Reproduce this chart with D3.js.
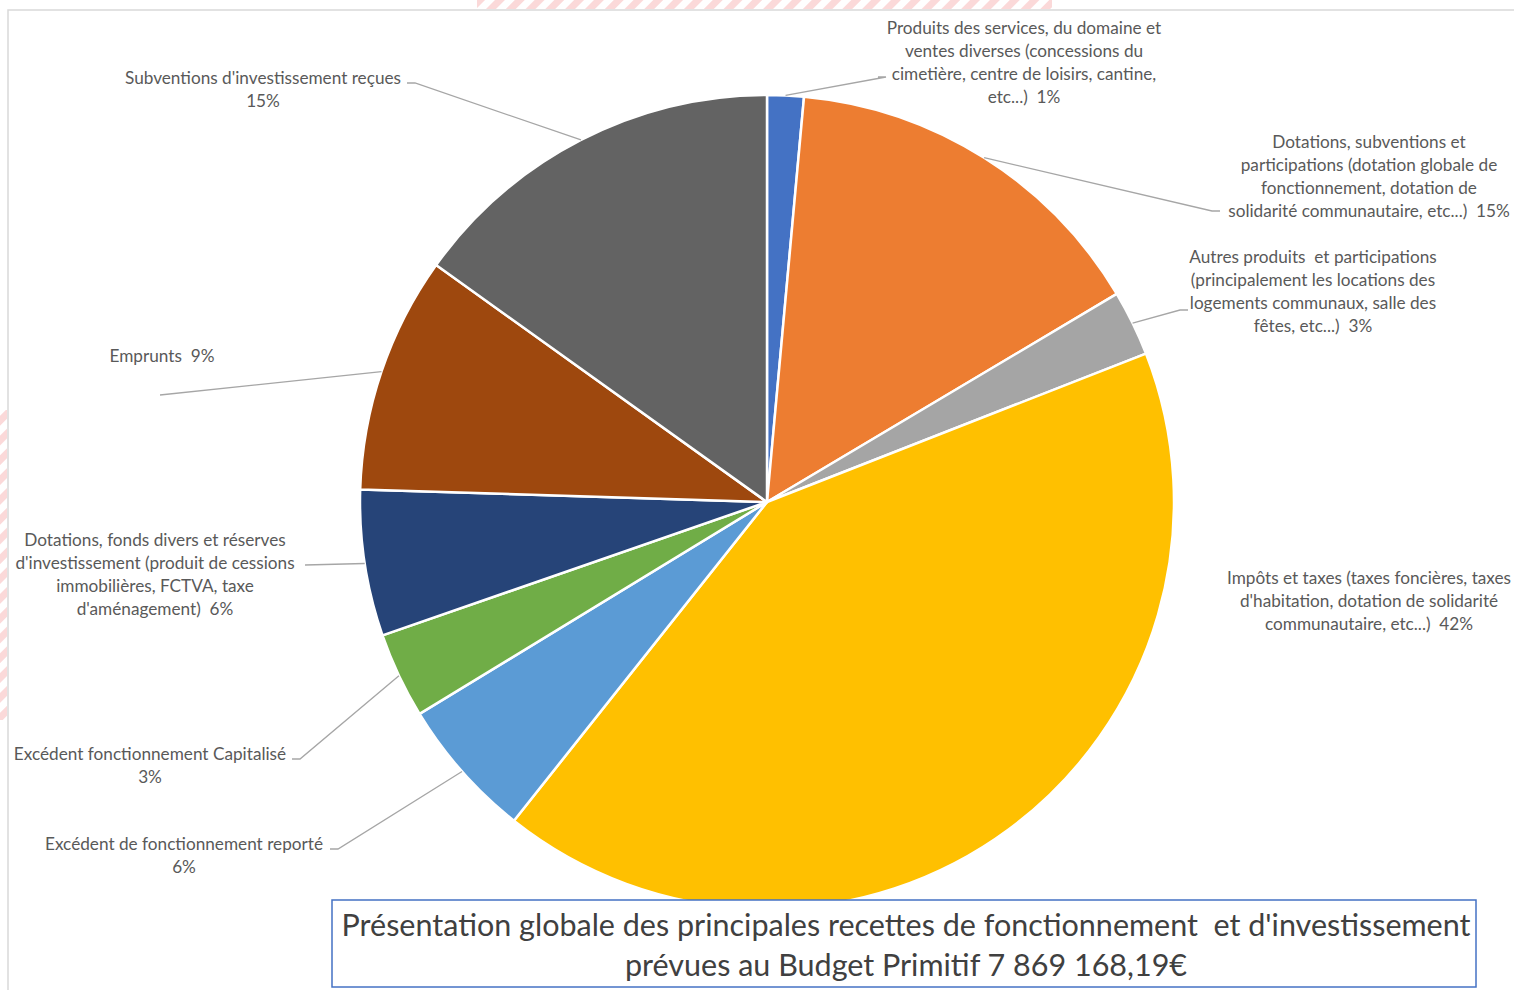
<!DOCTYPE html>
<html>
<head>
<meta charset="utf-8">
<script src="https://cdn.jsdelivr.net/npm/d3@7"></script>
<style>
  body { margin: 0; background: #fff; }
  svg { display: block; }
  .lbl { font-family: Lato, "Open Sans", sans-serif; font-size: 17.2px; fill: #595959; }
  .title { font-family: Lato, "Open Sans", sans-serif; font-size: 30.5px; fill: #404040; }
</style>
</head>
<body>
<svg id="chart" width="1514" height="990"></svg>
<script>
// donnees (recettes, en %)
const categories = [
  "Produits des services, du domaine et ventes diverses",
  "Dotations, subventions et participations",
  "Autres produits et participations",
  "Impôts et taxes",
  "Excédent de fonctionnement reporté",
  "Excédent fonctionnement Capitalisé",
  "Dotations, fonds divers et réserves d'investissement",
  "Emprunts",
  "Subventions d'investissement reçues"
];
const values = [1.45, 15.0, 2.6, 41.6, 5.6, 3.4, 5.8, 9.4, 15.1];
// texte des etiquettes, {p} = pourcentage
const labelLines = [
  ["Produits des services, du domaine et", "ventes diverses (concessions du", "cimetière, centre de loisirs, cantine,", "etc...)  {p}"],
  ["Dotations, subventions et", "participations (dotation globale de", "fonctionnement, dotation de", "solidarité communautaire, etc...)  {p}"],
  ["Autres produits  et participations", "(principalement les locations des", "logements communaux, salle des", "fêtes, etc...)  {p}"],
  ["Impôts et taxes (taxes foncières, taxes", "d'habitation, dotation de solidarité", "communautaire, etc...)  {p}"],
  ["Excédent de fonctionnement reporté", "{p}"],
  ["Excédent fonctionnement Capitalisé", "{p}"],
  ["Dotations, fonds divers et réserves", "d'investissement (produit de cessions", "immobilières, FCTVA, taxe", "d'aménagement)  {p}"],
  ["Emprunts  {p}"],
  ["Subventions d'investissement reçues", "{p}"]
];
const titleLines = [
  "Présentation globale des principales recettes de fonctionnement  et d'investissement",
  "prévues au Budget Primitif 7 869 168,19€"
];

const colors = ["#4472C4", "#ED7D31", "#A5A5A5", "#FFC000", "#5B9BD5", "#70AD47", "#264478", "#9E480E", "#636363"];

// placement des etiquettes (deplacees a la main dans l'original)
// x,y = centre de la 1re ligne ; lx,ly = bout de la ligne de rappel ; tick = petit trait horizontal
const labelPos = [
  {x: 1024, y: 28,  lx: 886,  ly: 77,  tick: -8},
  {x: 1369, y: 142, lx: 1212, ly: 211, tick: 8},
  {x: 1313, y: 257, lx: 1180, ly: 310, tick: 8},
  {x: 1369, y: 578, lx: null, ly: null, tick: 0},
  {x: 184,  y: 844, lx: 338,  ly: 849, tick: -8},
  {x: 150,  y: 754, lx: 300,  ly: 759, tick: -8},
  {x: 155,  y: 540, lx: 305,  ly: 565, tick: 0},
  {x: 162,  y: 356, lx: 160,  ly: 395, tick: 0},
  {x: 263,  y: 78,  lx: 415,  ly: 83,  tick: -8}
];

const cx = 767, cy = 502, R = 407;
const lineH = 23;

const svg = d3.select('#chart');

// hachures roses (bords de la capture)
const defs = svg.append('defs');
const pat = defs.append('pattern')
  .attr('id', 'hatch')
  .attr('patternUnits', 'userSpaceOnUse')
  .attr('width', 14).attr('height', 14)
  .attr('patternTransform', 'rotate(45)');
pat.append('rect').attr('width', 7).attr('height', 14).attr('fill', '#fbd9d9');
svg.append('rect').attr('x', 477).attr('y', 0).attr('width', 575).attr('height', 9).attr('fill', 'url(#hatch)');
svg.append('rect').attr('x', 0).attr('y', 410).attr('width', 7).attr('height', 310).attr('fill', 'url(#hatch)');

// cadre
svg.append('path')
  .attr('d', 'M8,990 L8,10 L1514,10')
  .attr('fill', 'none')
  .attr('stroke', '#d9d9d9')
  .attr('stroke-width', 1.5);

const total = d3.sum(values);
const pie = d3.pie().sort(null).value(d => d);
const arcs = pie(values);
const arc = d3.arc().innerRadius(0).outerRadius(R);

const g = svg.append('g').attr('transform', `translate(${cx},${cy})`);

g.selectAll('path.slice')
  .data(arcs)
  .join('path')
  .attr('class', 'slice')
  .attr('d', arc)
  .attr('fill', (d, i) => colors[i])
  .attr('stroke', '#fff')
  .attr('stroke-width', 2.5)
  .attr('stroke-linejoin', 'round');

// lignes de rappel
const leaders = svg.append('g').attr('class', 'leaders');
arcs.forEach((d, i) => {
  const p = labelPos[i];
  if (p.lx === null) return;
  const a = (d.startAngle + d.endAngle) / 2;
  const sx = cx + R * Math.sin(a);
  const sy = cy - R * Math.cos(a);
  let pts = [[sx, sy], [p.lx, p.ly]];
  if (p.tick) pts.push([p.lx + p.tick, p.ly]);
  leaders.append('path')
    .attr('d', d3.line()(pts))
    .attr('fill', 'none')
    .attr('stroke', '#a6a6a6')
    .attr('stroke-width', 1.3);
});

// etiquettes
const fmt = v => Math.round(v / total * 100) + '%';
const labels = svg.append('g').attr('class', 'labels');
labelLines.forEach((lines, i) => {
  const p = labelPos[i];
  const t = labels.append('text')
    .attr('class', 'lbl')
    .attr('text-anchor', 'middle');
  lines.forEach((ln, k) => {
    t.append('tspan')
      .attr('x', p.x)
      .attr('y', p.y + k * lineH)
      .attr('dy', '0.35em')
      .style('white-space', 'pre')
      .text(ln.replace('{p}', fmt(values[i])));
  });
});

// titre
const box = {x: 332, y: 900, w: 1144, h: 87};
svg.append('rect')
  .attr('x', box.x).attr('y', box.y)
  .attr('width', box.w).attr('height', box.h)
  .attr('fill', '#fff')
  .attr('stroke', '#4472C4')
  .attr('stroke-width', 1.5);
svg.append('text')
  .attr('class', 'title')
  .attr('text-anchor', 'middle')
  .selectAll('tspan')
  .data(titleLines)
  .join('tspan')
  .attr('x', box.x + box.w / 2 + 2)
  .attr('y', (d, i) => 925 + i * 40)
  .attr('dy', '0.35em')
  .style('white-space', 'pre')
  .text(d => d);
</script>
</body>
</html>
